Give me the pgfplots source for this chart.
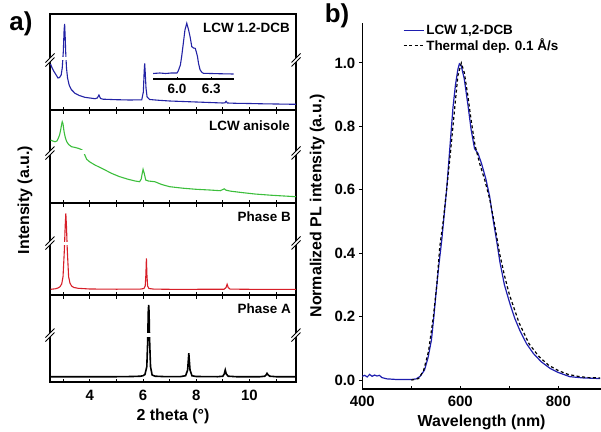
\documentclass[border=0pt]{standalone}
\usepackage{fontspec}
\setmainfont{Liberation Sans}
\usepackage{pgfplots}
\pgfplotsset{compat=1.18}

\definecolor{xblue}{RGB}{35,35,165}
\definecolor{xgreen}{RGB}{60,190,60}
\definecolor{xred}{RGB}{215,30,40}
\definecolor{plblue}{RGB}{30,30,175}

\newcommand{\fs}[1]{\bfseries\fontsize{#1}{#1}\selectfont}

% axis-break mark "//" at pixel position (x,y) from top-left
\newcommand{\brk}[2]{%
  \begin{scope}[shift={(#1bp,-#2bp)}]
    \draw[white, line width=3.2bp] (-4.5bp,-4.5bp) -- (4.5bp,4.5bp);
    \draw[line width=0.9bp] (-4.5bp,-6.5bp) -- (4.5bp,2.5bp);
    \draw[line width=0.9bp] (-4.5bp,-2.5bp) -- (4.5bp,6.5bp);
  \end{scope}}

\pgfplotsset{
  xrd/.style={
    scale only axis, width=246bp, xmin=2.5, xmax=11.75, ymin=0,
    ytick=\empty, xtick={4,6,8,10}, minor xtick={3,5,7,9,11},
    xticklabels={}, tick align=inside,
    major tick length=3.5bp, minor tick length=3.5bp,
    axis line style={line width=1.2bp},
    every tick/.style={black, line width=1bp},
    anchor=south west,
  },
}

\begin{document}
\begin{tikzpicture}

% --- a) XRD, four stacked panels ---
\begin{axis}[xrd, at={(50bp,-110bp)}, height=96bp, ymax=96, xtick pos=bottom]
\addplot[xblue, line width=1.1bp] coordinates {
(2.52,46)(2.58,42)(2.65,38.5)(2.72,35.5)(2.80,32)(2.86,32.5)(2.92,35)(2.96,42)
(3.00,58)(3.03,80)(3.05,86)(3.07,74)(3.09,58)(3.12,42)(3.16,32)(3.22,25)(3.30,20.5)
(3.44,16.7)(3.6,14.5)(3.81,12.7)(4.0,12)(4.19,11.3)(4.28,12)(4.34,15)(4.40,11.5)
(4.5,10.8)(5.0,10.3)(5.5,10)(5.95,10.2)(6.01,18)(6.04,38)(6.06,46.7)(6.08,38)
(6.11,22)(6.15,13)(6.25,10.5)(6.6,9.7)(7,9)(7.5,8.5)(8,8)(8.5,7.5)(9.0,7)(9.08,7.2)
(9.12,8.7)(9.17,7)(9.5,6.7)(10,6.5)(10.5,6.2)(11,6)(11.75,5.7)};
\end{axis}

\begin{axis}[xrd, at={(50bp,-203bp)}, height=93bp, ymax=93]
\addplot[xgreen, line width=1.1bp] coordinates {
(2.52,63)(2.6,62)(2.69,61.3)(2.76,62)(2.81,64.7)(2.86,68)(2.9,73)(2.94,79)(2.96,81.3)
(2.99,79)(3.02,73)(3.04,69.7)(3.08,65)(3.13,61.3)(3.2,58.5)(3.31,56.3)(3.45,55.5)
(3.56,54.7)(3.65,53.8)(3.71,53)(3.76,51)(3.8,48.5)(3.88,43.7)(4.0,41)(4.19,38)(4.5,34)
(4.81,29.7)(5.1,26.5)(5.44,23.7)(5.7,22)(5.87,21.3)(5.93,24)(5.97,30)(6.0,33.7)
(6.04,30)(6.1,23)(6.2,22)(6.44,21.3)(6.7,18.5)(7,16.3)(7.5,14.8)(8,13.7)(8.5,13)
(8.9,12.3)(9.0,13.5)(9.05,14.2)(9.12,12.8)(9.3,11.8)(9.7,10.5)(10.2,9)(10.8,7.8)
(11.3,7)(11.75,6.3)};
\end{axis}

\begin{axis}[xrd, at={(50bp,-295bp)}, height=92bp, ymax=92]
\addplot[xred, line width=1.1bp] coordinates {
(2.52,5.7)(2.7,6.2)(2.8,7)(2.875,8.3)(2.94,11)(2.99,18.3)(3.04,45)(3.07,68.3)
(3.095,81.7)(3.12,68.3)(3.15,45)(3.20,18.3)(3.25,12)(3.31,9)(3.4,7.5)
(3.56,6.7)(4,6)(5,5.8)(5.9,5.9)(6.03,6.5)(6.08,9)(6.105,20)(6.125,36.7)(6.145,20)
(6.17,9)(6.22,6.5)(6.4,5.9)(7,5.7)(8,5.7)(9.05,5.8)(9.12,7.5)(9.16,10.7)(9.2,7.5)
(9.27,5.9)(10,5.7)(11,5.7)(11.75,5.7)};
\end{axis}

\begin{axis}[xrd, at={(50bp,-382bp)}, height=87bp, ymax=87,
  xticklabels={4,6,8,10},
  /pgf/number format/assume math mode=true,
  xticklabel style={font=\fs{15}, yshift=-5bp},
  xlabel={2 theta (°)}, xlabel style={font=\fs{16}, yshift=-1bp}]
\addplot[black, line width=1.6bp] coordinates {
(2.52,5.3)(4,5.3)(5,5.3)(5.6,5.5)(5.9,5.8)(6.0,6.3)(6.07,7.5)(6.14,15.3)(6.175,42)
(6.195,70)(6.21,77)(6.225,70)(6.245,42)(6.28,15.3)(6.34,7)(6.45,5.8)(6.8,5.4)(7.4,5.4)
(7.6,6.3)(7.675,12)(7.72,28.7)(7.765,12)(7.84,6.2)(8.0,5.5)(8.8,5.3)(9.0,5.8)(9.05,8)
(9.09,12)(9.13,8)(9.2,5.8)(9.5,5.3)(10.4,5.3)(10.58,5.8)(10.63,7.2)(10.66,8.7)
(10.7,7.2)(10.76,5.8)(11,5.3)(11.75,5.3)};
\end{axis}

% gaps in the curves at the break height
\fill[white] (58bp,-56.7bp) rectangle (72bp,-60.3bp);
\fill[white] (76bp,-150.2bp) rectangle (95bp,-153.8bp);
\fill[white] (60bp,-241.5bp) rectangle (72bp,-245.1bp);
\fill[white] (142bp,-333.2bp) rectangle (158bp,-336.8bp);

% inset of the 6 degree peak
\begin{axis}[scale only axis, width=81bp, height=59bp, at={(153bp,-79bp)},
  anchor=south west, xmin=5.79, xmax=6.5, ymin=0, ymax=59,
  axis x line*=bottom, axis y line=none,
  xtick={6.0,6.3}, xticklabels={6.0,6.3},
  /pgf/number format/assume math mode=true,
  xticklabel style={font=\fs{13.5}, yshift=-2bp},
  tick align=inside, major tick length=2.5bp,
  axis line style={line width=1.1bp}, every tick/.style={black, line width=0.8bp}]
\addplot[xblue, line width=1.1bp] coordinates {
(5.79,5.5)(5.85,6)(5.9,5.5)(5.95,6)(6.0,6)(6.011,8)(6.03,14)(6.041,22.3)(6.055,35)
(6.07,49)(6.086,55.7)(6.10,50)(6.115,42.3)(6.13,32.3)(6.145,31)(6.16,30.7)(6.17,27)
(6.18,22.3)(6.19,15)(6.203,9)(6.22,6.5)(6.232,5.7)(6.3,5.5)(6.4,5.2)(6.497,5)};
\end{axis}

\brk{50}{60}\brk{296}{60}
\brk{50}{153}\brk{296}{153}
\brk{50}{243}\brk{296}{243}
\brk{50}{335}\brk{296}{335}

\node[anchor=east, inner sep=0pt, font=\fs{13.5}] at (290bp,-28bp) {LCW 1.2-DCB};
\node[anchor=east, inner sep=0pt, font=\fs{13.5}] at (290bp,-126bp) {LCW anisole};
\node[anchor=east, inner sep=0pt, font=\fs{13.5}] at (291bp,-217bp) {Phase B};
\node[anchor=east, inner sep=0pt, font=\fs{13.5}] at (291bp,-309bp) {Phase A};
\node[rotate=90, inner sep=0pt, font=\fs{16}] at (25bp,-200bp) {Intensity (a.u.)};
\node[inner sep=0pt, font=\fs{26}] at (21bp,-24bp) {a)};
\node[inner sep=0pt, font=\fs{26}] at (337bp,-16bp) {b)};

% --- b) PL spectra ---
\begin{axis}[scale only axis, width=238.7bp, height=366.3bp,
  at={(362.3bp,-389bp)}, anchor=south west,
  xmin=400, xmax=887, ymin=-0.028, ymax=1.127,
  axis lines*=left, axis line style={line width=1.2bp},
  every tick/.style={black, line width=1bp},
  xtick={400,600,800}, minor xtick={500,700},
  ytick={0,0.2,0.4,0.6,0.8,1.0},
  yticklabels={0.0,0.2,0.4,0.6,0.8,1.0}, xticklabels={400,600,800},
  xtick align=inside, ytick align=outside,
  major tick length=3.5bp, minor tick length=3bp,
  /pgf/number format/assume math mode=true,
  tick label style={font=\fs{15}},
  xticklabel style={yshift=-4bp},
  xlabel={Wavelength (nm)}, ylabel={Normalized PL intensity (a.u.)},
  label style={font=\fs{16}},
  xlabel style={yshift=-1.5bp}, ylabel style={yshift=3bp},
  legend style={at={(axis description cs:0.17,1.0)}, anchor=north west,
    draw=none, fill=none, inner sep=0pt, font=\fs{13.5},
    row sep=-1bp, nodes={inner sep=2bp}},
  legend cell align=left,
  legend image code/.code={\draw[#1] (0bp,0bp) -- (20bp,0bp);}]
\addplot[plblue, line width=1.2bp] coordinates {
(400,0.012)(405,0.015)(410,0.01)(415,0.018)(420,0.012)(425,0.016)(430,0.013)
(435,0.015)(440,0.008)(450,0.004)(470,0.002)(500,0.002)(510,0.004)(518,0.012)
(527,0.032)(534,0.07)(541,0.126)(546,0.2)(551,0.284)(556,0.36)(562,0.44)(567,0.52)
(572,0.6)(578,0.72)(585,0.86)(590,0.93)(595,0.98)(598,0.997)(602,0.99)(608,0.95)
(616,0.862)(622,0.79)(629,0.73)(636,0.715)(643,0.684)(652,0.635)(660,0.578)
(667,0.505)(674,0.44)(681,0.37)(690,0.3)(701,0.242)(711,0.195)(721,0.158)
(735,0.115)(749,0.084)(765,0.058)(783,0.037)(800,0.024)(823,0.011)(850,0.007)
(885,0.005)};
\addlegendentry{LCW 1,2-DCB}
\addplot[black, line width=1.2bp, dash pattern=on 3bp off 2.5bp] coordinates {
(500,0.0)(515,0.005)(525,0.03)(535,0.09)(545,0.2)(552,0.3)(558,0.42)(565,0.5)
(572,0.6)(580,0.72)(588,0.85)(595,0.96)(602,1.0)(608,0.97)(615,0.9)(622,0.82)
(630,0.74)(640,0.68)(650,0.63)(660,0.57)(670,0.49)(680,0.4)(690,0.33)(700,0.27)
(720,0.18)(740,0.115)(760,0.075)(780,0.047)(800,0.03)(820,0.018)(840,0.012)
(860,0.008)(885,0.007)};
\addlegendentry{Thermal dep. 0.1 Å/s}
\end{axis}

\pgfresetboundingbox
\path[use as bounding box] (0bp,0bp) rectangle (601bp,-432bp);
\end{tikzpicture}
\end{document}
